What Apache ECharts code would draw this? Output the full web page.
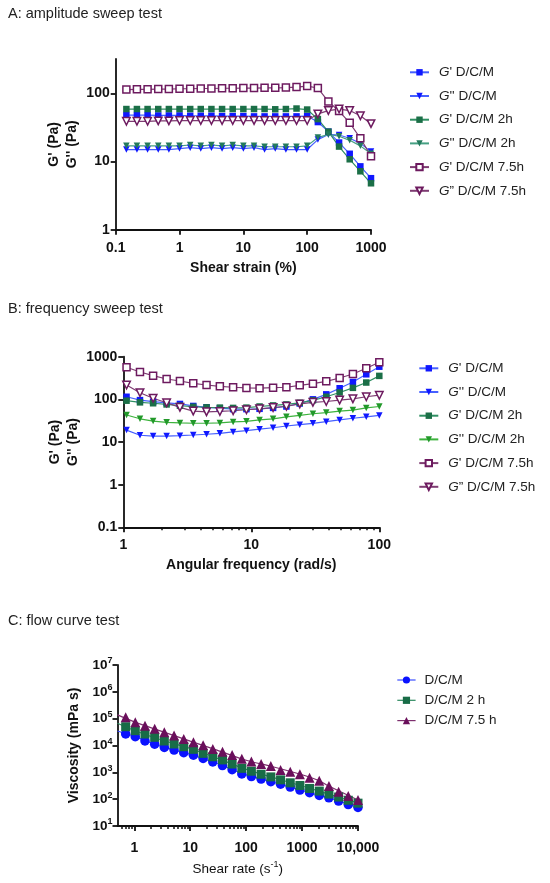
<!DOCTYPE html>
<html>
<head>
<meta charset="utf-8">
<title>Rheology panels</title>
<style>
  html, body { margin: 0; padding: 0; background: #fff; }
  .panel { position: absolute; left: 0; width: 550px; }
</style>
</head>
<body>
<div id="chartA" class="panel" style="top:0;height:295px"></div>
<div id="chartB" class="panel" style="top:295px;height:300px"></div>
<div id="chartC" class="panel" style="top:595px;height:288px"></div>
<script src="https://cdn.jsdelivr.net/npm/echarts@6/dist/echarts.min.js"></script>
<script>
// ---- A: amplitude sweep ----
var strainA = [0.147, 0.215, 0.316, 0.464, 0.681, 1, 1.47, 2.15, 3.16, 4.64, 6.81, 10,
               14.7, 21.5, 31.6, 46.4, 68.1, 100, 147, 215, 316, 464, 681, 1000];
var aGp     = [48, 48, 48, 47.5, 47.5, 47.5, 47, 47, 47, 46.5, 46.5, 46.5, 46, 46, 46, 46, 46, 46.5, 38, 27.5, 19, 13, 8.5, 5.7];
var aGpp    = [15, 15, 15, 15, 15, 15.5, 16, 15.5, 16, 15.5, 16, 15.5, 16, 15, 15.5, 15, 15, 15, 21, 25, 24.5, 22, 18.5, 14];
var aGp2h   = [59, 59, 59, 59, 59, 59, 59, 59, 59, 59, 59, 59, 59, 59, 58.5, 59, 60, 58, 42, 27.5, 16.6, 10.8, 7.2, 4.8];
var aGpp2h  = [17, 17, 17, 17, 17, 17, 17.5, 17, 17.5, 17, 17.5, 17, 17, 16.5, 16.5, 16.5, 16.5, 17, 22.5, 25, 23.5, 20.5, 17, 13];
var aGp75   = [114, 115, 115, 116, 116, 117, 117, 118, 118, 119, 119, 120, 120, 121, 121, 122, 124, 128, 120, 76, 55, 37, 22, 12];
var aGpp75  = [39, 39, 39, 39.5, 39.5, 40, 40, 40, 40, 40, 40, 40, 40, 40, 40, 40, 40, 40, 50, 56, 59, 56, 47, 36];
var aXTicks = [0.1, 1, 10, 100, 1000];
var aYTicks = [1, 10, 100];

// ---- B: frequency sweep ----
var freqB   = [1.06, 1.35, 1.71, 2.18, 2.77, 3.52, 4.47, 5.68, 7.21, 9.16,
               11.6, 14.8, 18.8, 23.9, 30.3, 38.5, 49, 62.2, 79.1, 100];
var bGp     = [115, 96, 88, 83, 78, 70, 65, 62, 59, 59, 60, 63, 68, 80, 100, 131, 182, 255, 387, 583];
var bGpp    = [19, 14.4, 13.8, 13.8, 14.1, 14.6, 15.2, 16, 17.2, 18.4, 20, 21.6, 23.7, 25.5, 27.4, 30, 33, 36, 39, 42];
var bGp2h   = [93, 85, 81, 76, 71, 67, 65, 64, 63, 64, 68, 72, 76, 83, 95, 115, 145, 186, 248, 355];
var bGpp2h  = [43, 35, 31, 29, 28, 27.5, 27.5, 28, 29.5, 30.5, 33, 35, 39, 42, 46, 49, 53, 56, 63, 68];
var bGp75   = [564, 438, 359, 300, 269, 238, 217, 202, 192, 185, 183, 188, 192, 213, 233, 265, 317, 393, 534, 739];
var bGpp75  = [217, 143, 106, 83, 65, 53, 51, 52, 54, 57, 60, 64, 69, 78, 85, 89, 96, 103, 115, 125];
var bXTicks = [1, 10, 100];
var bXMinor = [2, 3, 4, 5, 6, 7, 8, 9, 20, 30, 40, 50, 60, 70, 80, 90];
var bYTicks = [0.1, 1, 10, 100, 1000];

// ---- C: flow curve ----
var rateC   = [0.7, 1.04, 1.55, 2.31, 3.44, 5.14, 7.65, 11.4, 17, 25.3, 37.7, 56.1, 83.6,
               124, 185, 276, 412, 614, 914, 1360, 2030, 3020, 4500, 6700, 10000];
var cDcm    = [26900, 21400, 14800, 11200, 8510, 6760, 5370, 4365, 3310, 2450, 1780, 1260, 871,
               692, 562, 447, 363, 282, 219, 174, 138, 112, 85, 63, 49];
var cDcm2h  = [50100, 35600, 26800, 20200, 14700, 11400, 9000, 7200, 5100, 3800, 2900, 2040, 1410,
               1100, 851, 676, 525, 407, 324, 251, 200, 155, 120, 91, 71];
var cDcm75  = [112000, 74000, 55000, 41700, 30900, 23400, 17400, 13200, 10200, 7410, 5890, 4470, 3240,
               2510, 2040, 1740, 1230, 1050, 851, 631, 490, 309, 191, 132, 93];
// fitted curves drawn under the points
var fitRateC  = [0.5, 1, 3, 10, 30, 100, 300, 1000, 2000, 3000, 10000];
var cFitDcm   = [34700, 21900, 9330, 4680, 2150, 800, 430, 210, 138, 112, 49];
var cFitDcm2h = [67600, 36300, 16400, 7760, 3390, 1290, 646, 309, 200, 155, 71];
var cFitDcm75 = [138000, 75900, 34300, 14500, 6760, 2820, 1620, 810, 490, 309, 93];
var cXTicks  = [1, 10, 100, 1000, 10000];
var cXLabels = ['1', '10', '100', '1000', '10,000'];
var cXMinor  = [0.6, 0.7, 0.8, 0.9, 2, 3, 4, 5, 6, 7, 8, 9, 20, 30, 40, 50, 60, 70, 80, 90,
                200, 300, 400, 500, 600, 700, 800, 900, 2000, 3000, 4000, 5000, 6000, 7000, 8000, 9000];
var cYTicks  = [10, 100, 1000, 10000, 100000, 1000000, 10000000];

var FONT = '"Liberation Sans", Arial, sans-serif';
var INK = '#111';

function pairs(xs, ys) {
  return xs.map(function (x, i) { return [x, ys[i]]; });
}

function logAxis(o) {
  return {
    type: 'log', logBase: 10, min: o.min, max: o.max,
    name: o.name, nameLocation: 'middle', nameGap: o.nameGap, nameRotate: o.nameRotate,
    nameTextStyle: Object.assign({ color: INK, fontFamily: FONT, fontWeight: 'bold', fontSize: 14 }, o.nameStyle || {}),
    axisLine: { show: true, onZero: false, lineStyle: { color: INK, width: 1.8 } },
    axisTick: { show: true, customValues: o.ticks, length: 5, lineStyle: { color: INK, width: 1.8 } },
    axisLabel: {
      customValues: o.ticks, margin: o.margin, color: INK, fontFamily: FONT,
      fontWeight: 'bold', fontSize: 14, formatter: o.formatter || function (v) { return String(v); },
      rich: o.rich
    },
    splitLine: { show: false }
  };
}

function minorAxis(min, max, ticks) {
  return {
    type: 'log', logBase: 10, min: min, max: max, position: 'bottom',
    axisLine: { show: false }, axisLabel: { show: false }, splitLine: { show: false },
    axisTick: { show: true, customValues: ticks, length: 3, lineStyle: { color: INK, width: 1.5 } }
  };
}

function series(name, xs, ys, s) {
  return {
    name: name, type: 'line', data: pairs(xs, ys),
    symbol: s.symbol, symbolSize: s.size, symbolRotate: s.rotate || 0,
    itemStyle: s.hollow ? { color: '#fff', borderColor: s.color, borderWidth: 1.5 } : { color: s.color },
    lineStyle: { color: s.line, width: s.lineWidth === undefined ? 1.2 : s.lineWidth, opacity: s.lineOpacity === undefined ? 1 : s.lineOpacity },
    smooth: s.smooth || false, showSymbol: s.symbol !== 'none',
    emphasis: { disabled: true }, z: s.z || 2
  };
}

function title(text, top) {
  return {
    text: text, left: 8, top: top, padding: 0,
    textStyle: { fontFamily: FONT, fontSize: 14.5, fontWeight: 'normal', color: '#222', lineHeight: 16 }
  };
}

function gLegend(names, left, top) {
  return {
    data: names, orient: 'vertical', left: left, top: top, padding: 0,
    itemWidth: 19, itemHeight: 8, itemGap: 9.7, selectedMode: false,
    formatter: function (n) { return '{i|G}{r|' + n.slice(1) + '}'; },
    textStyle: {
      fontFamily: FONT, fontSize: 13.5, color: '#222', lineHeight: 14, padding: [0, 0, 0, 5],
      rich: {
        i: { fontFamily: FONT, fontSize: 13.5, fontStyle: 'italic', color: '#222', lineHeight: 14 },
        r: { fontFamily: FONT, fontSize: 13.5, color: '#222', lineHeight: 14 }
      }
    }
  };
}

var blue = '#1018ff', blueLine = '#4660ff';
var green = '#1b6f47', greenLine = '#2f8f62';
var teal = '#237a5c', tealLine = '#46a083';
var lime = '#22992a', limeLine = '#3db33d';
var plum = '#6d1a5f', plumLine = '#7e3c72';

var namesAB = ["G' D/C/M", "G'' D/C/M", "G' D/C/M 2h", "G'' D/C/M 2h", "G' D/C/M 7.5h", "G\u201D D/C/M 7.5h"];

// ---------- Panel A ----------
var chartA = echarts.init(document.getElementById('chartA'), null, { renderer: 'canvas' });
chartA.setOption({
  animation: false,
  title: title('A: amplitude sweep test', 6),
  legend: gLegend(namesAB, 409, 65.3),
  grid: { left: 115.7, top: 59, width: 255.3, height: 170.7, outerBoundsMode: 'none' },
  xAxis: logAxis({ min: 0.1, max: 1000, ticks: aXTicks, margin: 11, name: 'Shear strain (%)', nameGap: 31 }),
  yAxis: logAxis({ min: 1, max: 320, ticks: aYTicks, margin: 6, name: "G' (Pa)\nG'' (Pa)", nameGap: 35, nameRotate: 90,
                   nameStyle: { lineHeight: 18 } }),
  series: [
    series(namesAB[0], strainA, aGp,    { symbol: 'rect', size: 6.5, color: blue, line: blueLine }),
    series(namesAB[1], strainA, aGpp,   { symbol: 'triangle', rotate: 180, size: 6.5, color: blue, line: blueLine }),
    series(namesAB[2], strainA, aGp2h,  { symbol: 'rect', size: 6.5, color: green, line: greenLine }),
    series(namesAB[3], strainA, aGpp2h, { symbol: 'triangle', rotate: 180, size: 6.5, color: teal, line: tealLine }),
    series(namesAB[4], strainA, aGp75,  { symbol: 'rect', size: 7, color: plum, line: plumLine, hollow: true }),
    series(namesAB[5], strainA, aGpp75, { symbol: 'triangle', rotate: 180, size: 7.5, color: plum, line: plumLine, hollow: true })
  ]
});

// ---------- Panel B ----------
var chartB = echarts.init(document.getElementById('chartB'), null, { renderer: 'canvas' });
chartB.setOption({
  animation: false,
  title: title('B: frequency sweep test', 6),
  legend: gLegend(namesAB, 418.3, 66.3),
  grid: { left: 123.3, top: 61.7, width: 256, height: 170.6, outerBoundsMode: 'none' },
  xAxis: [
    logAxis({ min: 1, max: 100, ticks: bXTicks, margin: 11, name: 'Angular frequency (rad/s)', nameGap: 31 }),
    minorAxis(1, 100, bXMinor)
  ],
  yAxis: logAxis({ min: 0.1, max: 1000, ticks: bYTicks, margin: 6, name: "G' (Pa)\nG'' (Pa)", nameGap: 35, nameRotate: 90,
                   nameStyle: { lineHeight: 18 } }),
  series: [
    series(namesAB[0], freqB, bGp,    { symbol: 'rect', size: 6.5, color: blue, line: blueLine }),
    series(namesAB[1], freqB, bGpp,   { symbol: 'triangle', rotate: 180, size: 6.5, color: blue, line: blueLine }),
    series(namesAB[2], freqB, bGp2h,  { symbol: 'rect', size: 6.5, color: green, line: greenLine }),
    series(namesAB[3], freqB, bGpp2h, { symbol: 'triangle', rotate: 180, size: 6.5, color: lime, line: limeLine }),
    series(namesAB[4], freqB, bGp75,  { symbol: 'rect', size: 7, color: plum, line: plumLine, hollow: true }),
    series(namesAB[5], freqB, bGpp75, { symbol: 'triangle', rotate: 180, size: 7.5, color: plum, line: plumLine, hollow: true })
  ]
});

// ---------- Panel C ----------
var cBlue = '#0a12ff', cBlueLine = '#3a4dff';
var cGreen = '#186c47', cGreenLine = '#2d8a5f';
var cPlum = '#6a0f5b', cPlumLine = '#7d2f6e';
var namesC = ['D/C/M', 'D/C/M 2 h', 'D/C/M 7.5 h'];

var chartC = echarts.init(document.getElementById('chartC'), null, { renderer: 'canvas' });
chartC.setOption({
  animation: false,
  title: title('C: flow curve test', 17.7),
  legend: {
    data: namesC, orient: 'vertical', left: 396.7, top: 78, padding: 0,
    itemWidth: 18.3, itemHeight: 9, itemGap: 6.3, selectedMode: false,
    lineStyle: { width: 1.2, opacity: 1 },
    textStyle: { fontFamily: FONT, fontSize: 13.5, color: '#222', lineHeight: 14, padding: [0, 0, 0, 4] }
  },
  grid: { left: 117.5, top: 70, width: 240.5, height: 161, outerBoundsMode: 'none' },
  xAxis: [
    logAxis({
      min: 0.5, max: 10000, ticks: cXTicks, margin: 15, name: 'Shear rate (s{sup|-1})', nameGap: 32,
      formatter: function (v) {
        var k = cXTicks.findIndex(function (t) { return Math.abs(Math.log10(t / v)) < 0.01; });
        return k < 0 ? '' : cXLabels[k];
      },
      nameStyle: {
        fontWeight: 'normal', fontSize: 13.5, lineHeight: 18,
        rich: { sup: { fontFamily: FONT, fontSize: 9, color: INK, verticalAlign: 'top', lineHeight: 18 } }
      }
    }),
    minorAxis(0.5, 10000, cXMinor)
  ],
  yAxis: logAxis({
    min: 10, max: 10000000, ticks: cYTicks, margin: 5, name: 'Viscosity (mPa s)', nameGap: 36, nameRotate: 90,
    formatter: function (v) { return '{b|10}{s|' + Math.round(Math.log10(v)) + '}'; },
    rich: {
      b: { fontFamily: FONT, fontWeight: 'bold', fontSize: 13.5, color: INK, lineHeight: 17 },
      s: { fontFamily: FONT, fontWeight: 'bold', fontSize: 9, color: INK, verticalAlign: 'top', lineHeight: 17 }
    }
  }),
  series: [
    series('fit1', fitRateC, cFitDcm,   { symbol: 'none', color: cBlueLine, line: cBlueLine, smooth: 0.3, z: 1 }),
    series('fit2', fitRateC, cFitDcm2h, { symbol: 'none', color: cGreenLine, line: cGreenLine, smooth: 0.3, z: 1 }),
    series('fit3', fitRateC, cFitDcm75, { symbol: 'none', color: cPlumLine, line: cPlumLine, smooth: 0.3, z: 1 }),
    series(namesC[0], rateC, cDcm,   { symbol: 'circle', size: 9.5, color: cBlue, line: cBlueLine, lineOpacity: 0 }),
    series(namesC[1], rateC, cDcm2h, { symbol: 'rect', size: 9, color: cGreen, line: cGreenLine, lineOpacity: 0 }),
    series(namesC[2], rateC, cDcm75, { symbol: 'triangle', size: 10, color: cPlum, line: cPlumLine, lineOpacity: 0 })
  ]
});
</script>
</body>
</html>
